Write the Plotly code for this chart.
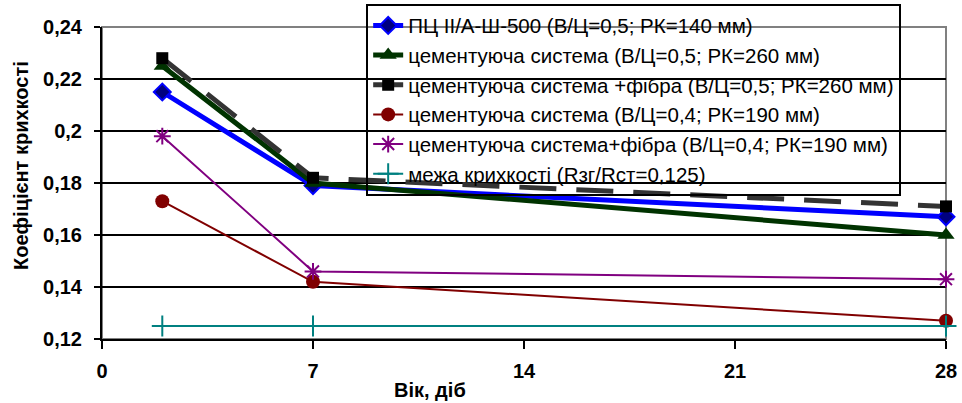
import plotly.graph_objects as go

# Age of the samples, days
age_days = [2, 7, 28]

# Brittleness coefficient for each mix
pc_500_wc05 = [0.215, 0.179, 0.167]
cem_sys_wc05 = [0.225, 0.180, 0.160]
cem_fibre_wc05 = [0.228, 0.182, 0.171]
cem_sys_wc04 = [0.173, 0.142, 0.127]
cem_fibre_wc04 = [0.198, 0.146, 0.143]
brittle_limit = [0.125, 0.125, 0.125]

series_names = [
    "ПЦ II/А-Ш-500 (В/Ц=0,5; РК=140 мм)",
    "цементуюча система (В/Ц=0,5; РК=260 мм)",
    "цементуюча система +фібра (В/Ц=0,5; РК=260 мм)",
    "цементуюча система (В/Ц=0,4; РК=190 мм)",
    "цементуюча система+фібра (В/Ц=0,4; РК=190 мм)",
    "межа крихкості (Rзг/Rст=0,125)",
]

x_ticks = [0, 7, 14, 21, 28]
y_ticks = [0.12, 0.14, 0.16, 0.18, 0.20, 0.22, 0.24]
y_tick_labels = ["0,12", "0,14", "0,16", "0,18", "0,2", "0,22", "0,24"]

FONT = "Liberation Sans, Arial, sans-serif"
BOLD = dict(family=FONT, size=20, weight="bold", color="black")

styles = [
    dict(line=dict(color="#0000FF", width=5),
         marker=dict(symbol="diamond", size=13, color="#000080",
                     line=dict(color="#0000FF", width=2))),
    dict(line=dict(color="#003300", width=5),
         marker=dict(symbol="triangle-up", size=15, color="#003300")),
    dict(line=dict(color="#333333", width=5, dash="37px,20px"),
         marker=dict(symbol="square", size=12, color="#000000")),
    dict(line=dict(color="#800000", width=2),
         marker=dict(symbol="circle", size=14, color="#800000")),
    dict(line=dict(color="#800080", width=2),
         marker=dict(symbol="asterisk-open", size=14,
                     line=dict(color="#800080", width=2))),
    dict(line=dict(color="#008080", width=2),
         marker=dict(symbol="cross-thin-open", size=15,
                     line=dict(color="#008080", width=2))),
]

all_series = [pc_500_wc05, cem_sys_wc05, cem_fibre_wc05,
              cem_sys_wc04, cem_fibre_wc04, brittle_limit]

fig = go.Figure()
for name, values, st in zip(series_names, all_series, styles):
    fig.add_trace(go.Scatter(
        x=age_days, y=values, name=name, mode="lines+markers",
        cliponaxis=False, **st,
    ))

fig.update_layout(
    width=962, height=403,
    margin=dict(l=102, r=16, t=27, b=64, autoexpand=False),
    paper_bgcolor="white", plot_bgcolor="white",
    font=dict(family=FONT, size=20, color="black"),
    showlegend=True,
    legend=dict(
        x=0.313, y=1.075, xanchor="left", yanchor="top",
        bgcolor="rgba(0,0,0,0)", bordercolor="black", borderwidth=2,
        font=dict(family=FONT, size=20.5, color="black"),
        tracegroupgap=0, itemsizing="trace",
    ),
    xaxis=dict(
        range=[0, 28], tickvals=x_ticks, showgrid=False, zeroline=False,
        showline=True, linecolor="black", linewidth=2,
        ticks="outside", ticklen=8, tickwidth=2, tickcolor="black",
        tickfont=BOLD, ticklabelstandoff=5,
    ),
    yaxis=dict(
        range=[0.12, 0.24], tickvals=y_ticks, ticktext=y_tick_labels,
        showgrid=True, gridcolor="black", gridwidth=2, zeroline=False,
        showline=True, linecolor="black", linewidth=2,
        ticks="outside", ticklen=6, tickwidth=2, tickcolor="black",
        tickfont=BOLD, ticklabelstandoff=8,
    ),
    shapes=[dict(type="rect", xref="paper", yref="paper", x0=0, x1=1, y0=0, y1=1,
                 line=dict(color="#808080", width=2), layer="between")],
    annotations=[
        dict(text="Вік, діб", xref="paper", yref="paper",
             x=0.3886, y=-0.1635, xanchor="center", yanchor="middle",
             showarrow=False, font=BOLD),
        dict(text="Коефіцієнт крихкості", xref="paper", yref="paper",
             x=-0.096, y=0.5577, xanchor="center", yanchor="middle",
             textangle=-90, showarrow=False, font=BOLD),
    ],
)

fig.write_html("out.html")
